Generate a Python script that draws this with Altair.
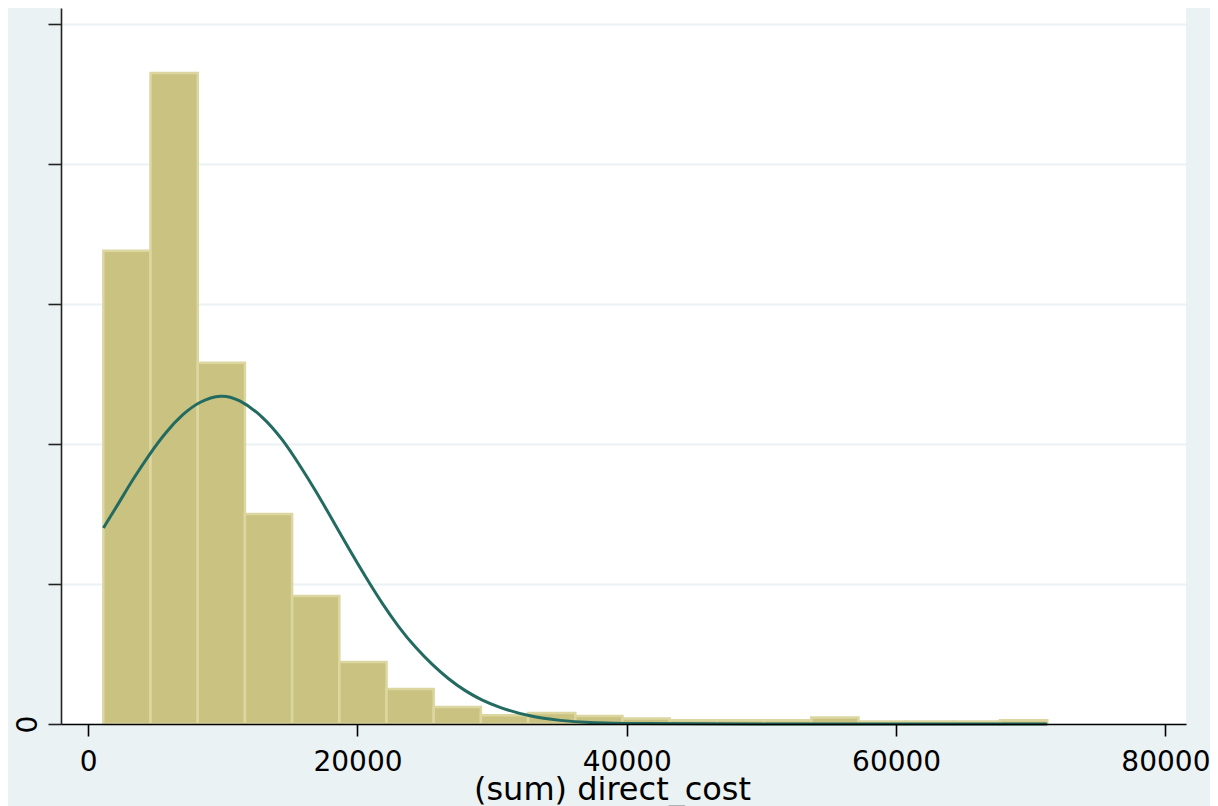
import altair as alt
import pandas as pd

# histogram bins (direct_cost) and density heights
bin_start = [1125, 4630, 8135, 11640, 15145, 18650, 22155, 25660, 29165, 32670,
             36175, 39680, 43185, 46690, 50195, 53700, 57205, 60710, 64215, 67720]
bin_end = [4630, 8135, 11640, 15145, 18650, 22155, 25660, 29165, 32670, 36175,
           39680, 43185, 46690, 50195, 53700, 57205, 60710, 64215, 67720, 71225]
density = [6.76e-05, 9.30e-05, 5.16e-05, 3.00e-05, 1.83e-05, 0.886e-05, 0.50e-05,
           0.243e-05, 0.124e-05, 0.157e-05, 0.114e-05, 0.079e-05, 0.053e-05,
           0.053e-05, 0.053e-05, 0.093e-05, 0.036e-05, 0.036e-05, 0.036e-05,
           0.053e-05]

# normal density overlay
curve_x = [1130, 2346, 3330, 4566, 5802, 7031, 8266, 9872, 11227, 12951, 14431,
           15667, 16903, 18131, 19367, 20603, 21832, 23068, 24303, 25532, 26768,
           28004, 29232, 30468, 32689, 35153, 37128, 40088, 50000, 60000, 71225]
curve_y = [2.80e-05, 3.18e-05, 3.50e-05, 3.86e-05, 4.18e-05, 4.43e-05,
           4.61e-05, 4.71e-05, 4.64e-05, 4.40e-05, 4.07e-05, 3.71e-05,
           3.33e-05, 2.92e-05, 2.50e-05, 2.10e-05, 1.72e-05, 1.38e-05,
           1.09e-05, 0.85e-05, 0.64e-05, 0.47e-05, 0.34e-05, 0.24e-05,
           0.11e-05, 0.045e-05, 0.02e-05, 0.005e-05, 0.0, 0.0, 0.0]

x_ticks = [0, 20000, 40000, 60000, 80000]
y_ticks = [0, 2e-05, 4e-05, 6e-05, 8e-05, 1e-04]

bars = pd.DataFrame({"x0": bin_start, "x1": bin_end, "d": density})
curve = pd.DataFrame({"x": curve_x, "y": curve_y})

FONT = "DejaVu Sans"
xscale = alt.Scale(domain=[-2020, 81530], nice=False, zero=False)
yscale = alt.Scale(domain=[0, 1.0229e-04], nice=False, zero=False)

hist = alt.Chart(bars).mark_rect(
    fill="#cac281", stroke="#dcd7a1", strokeWidth=2.5
).encode(
    x=alt.X("x0:Q", scale=xscale, title="(sum) direct_cost",
            axis=alt.Axis(values=x_ticks, grid=False, format="d",
                          domainColor="#000000", domainWidth=1.6,
                          tickColor="#000000", tickWidth=1.6, tickSize=12,
                          labelFont=FONT, labelFontSize=28, labelColor="#000000",
                          labelPadding=12, labelFlush=False,
                          titleFont=FONT, titleFontSize=32, titleFontWeight="normal",
                          titleColor="#000000", titleX=551, titleY=75,
                          titleAlign="center", titleBaseline="alphabetic",
                          zindex=1)),
    x2="x1:Q",
    y=alt.Y("d:Q", scale=yscale, title=None,
            axis=alt.Axis(values=y_ticks, grid=True, gridColor="#eaf2f3", gridWidth=2,
                          labelExpr="datum.value == 0 ? '0' : ''",
                          labelAngle=-90, labelAlign="center", labelBaseline="bottom",
                          labelFont=FONT, labelFontSize=28, labelColor="#000000",
                          labelPadding=6, labelFlush=False,
                          domainColor="#222222", domainWidth=1.6,
                          tickColor="#222222", tickWidth=1.6, tickSize=13)),
    y2=alt.datum(0),
)

line = alt.Chart(curve).mark_line(
    color="#236b60", strokeWidth=3, interpolate="basis"
).encode(
    x=alt.X("x:Q", scale=xscale),
    y=alt.Y("y:Q", scale=yscale),
)

chart = (hist + line).properties(
    width=1125, height=716,
    autosize=alt.AutoSizeParams(type="none"),
    padding={"left": 53, "top": 0, "right": 24, "bottom": 90},
    background="#eaf2f3",
).configure_view(fill="#ffffff", stroke=None)

chart.save("out.html", embed_options={"renderer": "svg", "actions": False})
